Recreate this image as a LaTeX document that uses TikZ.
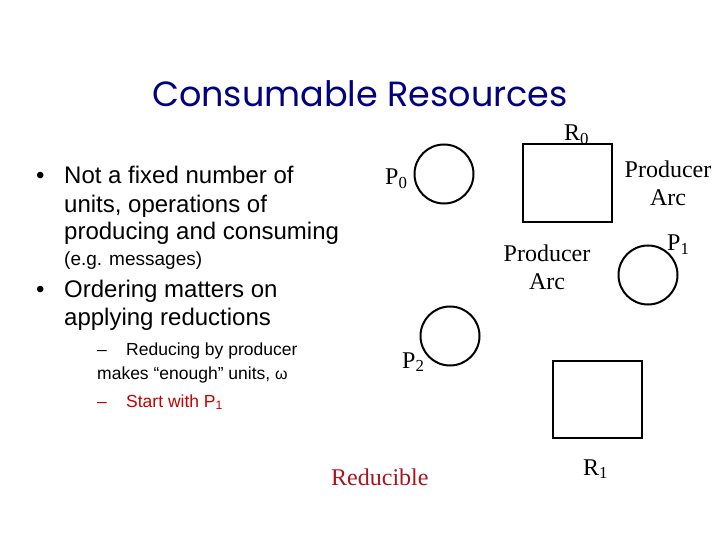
\documentclass[tikz,border=0pt]{standalone}
\usepackage{fontspec}
\usepackage{tikz}
\setmainfont{Liberation Serif}
\newfontfamily\arialfont{Liberation Sans}
\newfontfamily\titlefont{Poppins}
\definecolor{titleblue}{RGB}{0,0,128}
\definecolor{subred}{RGB}{200,0,0}
\definecolor{redtext}{RGB}{170,20,30}
\tikzset{
  place/.style={draw, circle, line width=2pt, minimum size=59pt, inner sep=0pt},
  resource/.style={draw, rectangle, line width=2pt, minimum width=89pt, minimum height=78pt, inner sep=0pt},
  lbl/.style={font=\fontsize{24}{28}\selectfont, inner sep=0pt, anchor=base west},
  bullettext/.style={font=\arialfont\fontsize{24}{28}\selectfont, inner sep=0pt, anchor=base west},
  smalltext/.style={font=\arialfont\fontsize{17.5}{21}\selectfont, inner sep=0pt, anchor=base west}
}
\begin{document}
\begin{tikzpicture}[x=1pt, y=-1pt]
      \useasboundingbox (0,0) rectangle (720,540);
      % Define nodes
      \node[font=\titlefont\fontsize{35}{40}\selectfont, text=titleblue, inner sep=0pt, anchor=base] (title) at (360,107) {Consumable Resources};
      \node[bullettext] (b1) at (36,184) {\textbullet};
      \node[bullettext] (l1) at (64,184) {Not a fixed number of};
      \node[bullettext] (l2) at (64,213) {units, operations of};
      \node[bullettext] (l3) at (64,240) {producing and consuming};
      \node[smalltext, font=\arialfont\fontsize{19}{22}\selectfont] (l4) at (64,265) {(e.g. messages)};
      \node[bullettext] (b2) at (36,297) {\textbullet};
      \node[bullettext] (l5) at (64,297) {Ordering matters on};
      \node[bullettext] (l6) at (64,325) {applying reductions};
      \node[smalltext] (d1) at (97,355) {–};
      \node[smalltext] (l7) at (126,355) {Reducing by producer};
      \node[smalltext] (l8) at (97,379) {makes “enough” units, {\fontsize{16}{20}\selectfont ω}};
      \node[smalltext, text=subred] (d2) at (97,407) {–};
      \node[smalltext, text=subred] (l9) at (126,407) {Start with P\textsubscript{1}};
      % Graph
      \node[place] (p0) at (444,174) {};
      \node[place] (p1) at (648,275) {};
      \node[place] (p2) at (450,336) {};
      \node[resource] (r0) at (567.5,183) {};
      \node[resource, minimum height=77pt] (r1) at (597.5,399.5) {};
      \node[lbl] (p0lbl) at (385,185) {P\textsubscript{0}};
      \node[lbl] (p1lbl) at (667,251) {P\textsubscript{1}};
      \node[lbl] (p2lbl) at (402,368) {P\textsubscript{2}};
      \node[lbl] (r0lbl) at (564,141) {R\textsubscript{0}};
      \node[lbl] (r1lbl) at (583,475) {R\textsubscript{1}};
      \node[lbl, anchor=center, align=center] (arc0) at (668,183) {Producer\\Arc};
      \node[lbl, anchor=center, align=center] (arc1) at (547,267) {Producer\\Arc};
      \node[lbl, text=redtext] (red) at (331,485) {Reducible};
    \end{tikzpicture}
\end{document}
